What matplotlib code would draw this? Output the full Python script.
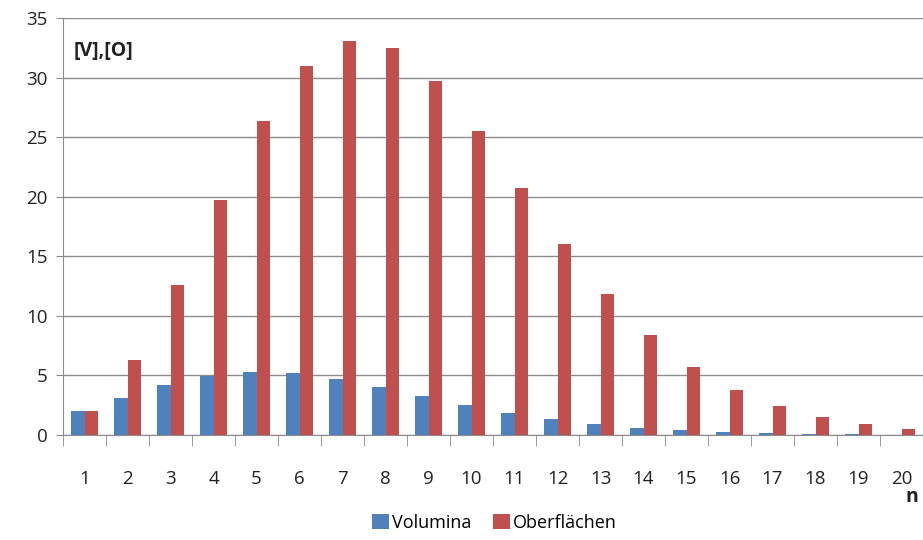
import matplotlib.pyplot as plt
import numpy as np

# dimension n, volumes and surfaces of the unit ball
n = [1, 2, 3, 4, 5, 6, 7, 8, 9, 10, 11, 12, 13, 14, 15, 16, 17, 18, 19, 20]
volumina = [2.00, 3.14, 4.19, 4.93, 5.26, 5.17, 4.72, 4.06, 3.30, 2.55,
            1.88, 1.34, 0.91, 0.60, 0.38, 0.24, 0.14, 0.08, 0.05, 0.03]
oberflaechen = [2.00, 6.28, 12.57, 19.74, 26.32, 31.01, 33.07, 32.47, 29.69, 25.50,
                20.72, 16.02, 11.84, 8.39, 5.72, 3.77, 2.40, 1.48, 0.89, 0.52]

plt.rcParams['font.family'] = ['Open Sans', 'DejaVu Sans']

fig = plt.figure(figsize=(9.23, 5.40), dpi=100)
ax = fig.add_axes([0.0683, 0.1944, 0.9317, 0.7723])

x = np.array(n)
w = 0.31
ax.bar(x - w / 2, volumina, w, color='#4F81BD', label='Volumina', zorder=3)
ax.bar(x + w / 2, oberflaechen, w, color='#C0504D', label='Oberflächen', zorder=3)

ax.set_xlim(0.5, 20.5)
ax.set_ylim(0, 35)
ax.set_yticks(range(0, 36, 5))
ax.yaxis.grid(True, color='#8c8c8c', linewidth=1)
ax.set_axisbelow(True)

# categories labelled at centres, tick marks between them
ax.set_xticks(x)
ax.set_xticklabels([str(v) for v in n])
ax.set_xticks(np.arange(0.5, 21, 1), minor=True)
ax.tick_params(axis='x', which='major', length=0, pad=25, labelsize=13.5, colors='#222222')
ax.tick_params(axis='x', which='minor', length=8, color='#8c8c8c')
ax.tick_params(axis='y', length=5, color='#8c8c8c', labelsize=13.5, labelcolor='#222222', pad=6)

for s in ['top', 'right']:
    ax.spines[s].set_visible(False)
ax.spines['left'].set_color('#8c8c8c')
ax.spines['bottom'].set_color('#8c8c8c')

ax.text(0.012, 0.92, '[V],[O]', transform=ax.transAxes, fontsize=14,
        fontweight='bold', color='#222222', va='center')
fig.text(0.988, 0.08, 'n', fontsize=14, fontweight='bold', color='#222222',
         ha='center', va='center')

fig.legend(loc='center', bbox_to_anchor=(0.536, 0.032), ncol=2, frameon=False,
           fontsize=13, handlelength=0.9, handleheight=0.9, handletextpad=0.2,
           columnspacing=1.2)

fig.savefig('out.png', dpi=100)
